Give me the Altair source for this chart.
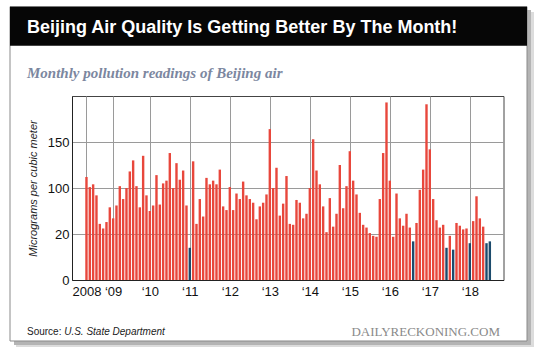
import altair as alt
import pandas as pd

# ---------------- data ----------------
title_text = "Beijing Air Quality Is Getting Better By The Month!"
subtitle_text = "Monthly pollution readings of Beijing air"
y_title = "Micrograms per cubic meter"
source_label = "Source: "
source_name = "U.S. State Department"
brand = "DAILYRECKONING.COM"

readings = [
    112, 101, 104, 92, 61, 56, 63, 79, 67, 81,
    102, 88, 100, 118, 130, 102, 79, 135, 92, 75,
    81, 114, 82, 105, 108, 138, 100, 127, 109, 119,
    81, 35, 129, 61, 88, 69, 111, 104, 108, 104,
    120, 80, 76, 101, 76, 94, 88, 107, 92, 88,
    84, 66, 80, 84, 93, 164, 100, 122, 70, 83,
    113, 61, 60, 87, 84, 67, 72, 100, 153, 119,
    104, 80, 52, 89, 58, 72, 125, 78, 102, 140,
    108, 93, 73, 60, 57, 51, 48, 47, 88, 138,
    193, 108, 47, 94, 67, 59, 72, 57, 42, 62,
    98, 120, 191, 142, 88, 65, 57, 60, 35, 48,
    33, 62, 59, 55, 56, 40, 64, 91, 67, 58,
    40, 42,
]
navy_months = [32, 99, 109, 111, 116, 121, 122]

year_ticks = [1, 9, 20, 32, 44, 56, 68, 80, 92, 104, 116]
year_labels = ["2008", "\u201809", "\u201810", "\u201811", "\u201812", "\u201813",
               "\u201814", "\u201815", "\u201816", "\u201817", "\u201818"]

y_ticks = [0, 50, 100, 150]
y_tick_labels = ["0", "20", "100", "150"]

# ---------------- tables ----------------
months = list(range(1, len(readings) + 1))
df = pd.DataFrame({
    "month": months,
    "value": readings,
    "kind": ["low" if m in navy_months else "normal" for m in months],
})


def label_expr(values, labels):
    expr = "''"
    for v, lab in reversed(list(zip(values, labels))):
        expr = f"datum.value == {v} ? '{lab}' : ({expr})"
    return expr


one = pd.DataFrame({"k": [0]})

W, H = 431.5, 184
SANS = "Liberation Sans"
SERIF = "Liberation Serif"

# ---------------- decoration ----------------
shadow_r1 = alt.Chart(one).mark_rect(color="#b4b4b4").encode(
    x=alt.value(455), x2=alt.value(459), y=alt.value(-86), y2=alt.value(249))
shadow_r2 = alt.Chart(one).mark_rect(color="#dcdcdc").encode(
    x=alt.value(459), x2=alt.value(462), y=alt.value(-84), y2=alt.value(251))
shadow_b1 = alt.Chart(one).mark_rect(color="#b4b4b4").encode(
    x=alt.value(-58), x2=alt.value(459), y=alt.value(245), y2=alt.value(249))
shadow_b2 = alt.Chart(one).mark_rect(color="#dcdcdc").encode(
    x=alt.value(-56), x2=alt.value(462), y=alt.value(249), y2=alt.value(251))
card = alt.Chart(one).mark_rect(fillOpacity=0, stroke="#8a8a8a", strokeWidth=1).encode(
    x=alt.value(-62), x2=alt.value(455), y=alt.value(-89.3), y2=alt.value(245))
header = alt.Chart(one).mark_rect(color="#060606").encode(
    x=alt.value(-62), x2=alt.value(455), y=alt.value(-89.3), y2=alt.value(-50.3))

title = alt.Chart(pd.DataFrame({"t": [title_text]})).mark_text(
    align="left", baseline="alphabetic", font=SANS, fontSize=18,
    fontWeight="bold", color="white").encode(
    x=alt.value(-45), y=alt.value(-62.7), text="t:N")

subtitle = alt.Chart(pd.DataFrame({"t": [subtitle_text]})).mark_text(
    align="left", baseline="alphabetic", font=SERIF, fontSize=15,
    fontWeight="bold", fontStyle="italic", color="#7c879f").encode(
    x=alt.value(-45), y=alt.value(-18), text="t:N")

src1 = alt.Chart(pd.DataFrame({"t": [source_label]})).mark_text(
    align="left", baseline="alphabetic", font=SANS, fontSize=10, color="#222").encode(
    x=alt.value(-45), y=alt.value(239), text="t:N")
src2 = alt.Chart(pd.DataFrame({"t": [source_name]})).mark_text(
    align="left", baseline="alphabetic", font=SANS, fontSize=10,
    fontStyle="italic", color="#222").encode(
    x=alt.value(-7.8), y=alt.value(239), text="t:N")

brand_txt = alt.Chart(pd.DataFrame({"t": [brand]})).mark_text(
    align="right", baseline="alphabetic", font=SERIF, fontSize=13, color="#8a8a8a").encode(
    x=alt.value(428), y=alt.value(240), text="t:N")

# ---------------- bars ----------------
bars = alt.Chart(df).mark_bar(size=2.4).encode(
    x=alt.X("month:Q",
            scale=alt.Scale(domain=[-1.84, 124.6], nice=False, zero=False),
            axis=alt.Axis(values=year_ticks, labelExpr=label_expr(year_ticks, year_labels),
                          title=None, ticks=False, labelPadding=5, labelFlush=False,
                          labelOverlap=False, labelFont=SANS, labelFontSize=13,
                          labelColor="#111", domainColor="#222", gridColor="#9a9a9a",
                          grid=True)),
    y=alt.Y("value:Q",
            scale=alt.Scale(domain=[0, 200], nice=False),
            axis=alt.Axis(values=y_ticks, labelExpr=label_expr(y_ticks, y_tick_labels),
                          title=y_title, titleFont=SANS, titleFontSize=11,
                          titleFontStyle="italic", titleFontWeight="normal",
                          titleColor="#222", titleAngle=270, titleX=-39, titleY=92,
                          titleAlign="center", titleBaseline="middle",
                          ticks=False, labelPadding=3, labelFont=SANS, labelFontSize=13,
                          labelColor="#111", domainColor="#222", gridColor="#9a9a9a",
                          grid=True)),
    color=alt.Color("kind:N", scale=alt.Scale(domain=["normal", "low"],
                                              range=["#e8473c", "#1c4b6c"]), legend=None),
)

chart = alt.layer(
    shadow_r1, shadow_r2, shadow_b1, shadow_b2, card, header,
    title, subtitle, src1, src2, brand_txt, bars,
).properties(
    width=W, height=H,
    padding={"left": 72, "top": 96, "right": 540 - 72 - W, "bottom": 352 - 96 - H},
    autosize=alt.AutoSizeParams(type="none"),
    background="white",
).configure_view(stroke="#444", strokeWidth=1)

chart.save("out.html", embed_options={"renderer": "svg", "actions": False})
